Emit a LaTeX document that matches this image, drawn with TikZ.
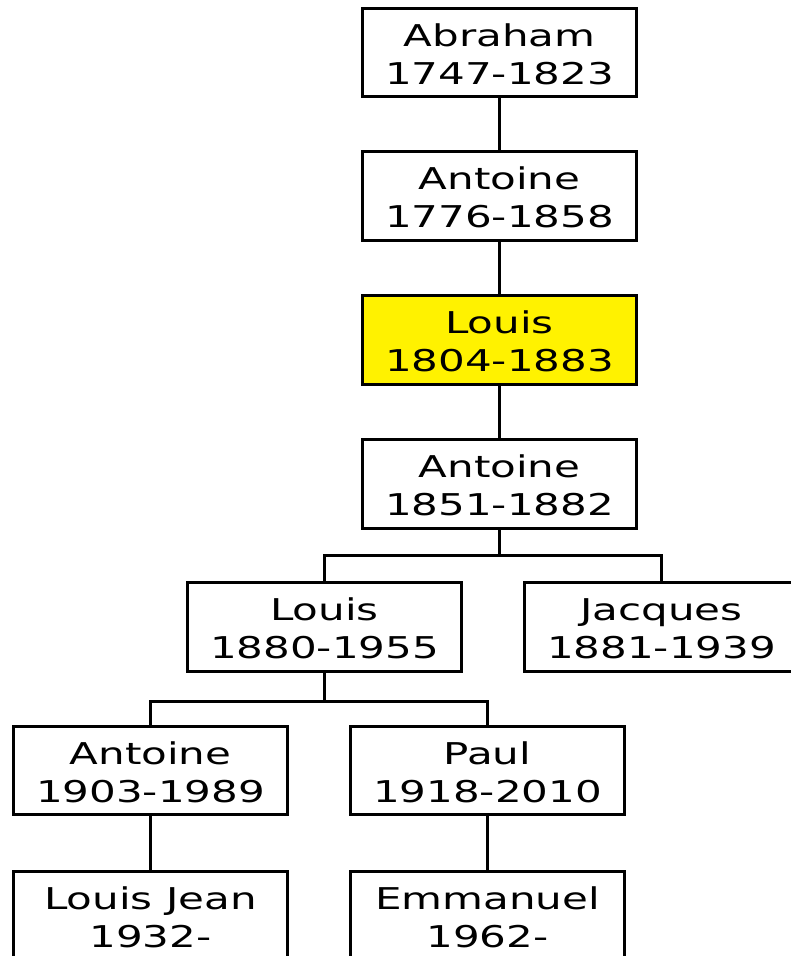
\documentclass[tikz,border=0pt]{standalone}
\usepackage{fontspec}
\setmainfont{DejaVu Sans}
\newcommand{\twolines}[2]{\raisebox{-4pt}[\height][\depth]{\scalebox{1.4}[1]{\begin{tabular}{@{}c@{}}#1\\#2\end{tabular}}}}
\begin{document}
\begin{tikzpicture}[x=0.75pt,y=-0.75pt,
  person/.style={draw=black,line width=2.4pt,rectangle,minimum width=206pt,minimum height=66.5pt,inner sep=0pt,fill=white,
    font=\fontsize{22.5pt}{28.5pt}\selectfont},
  hilite/.style={person,fill=yellow},
  link/.style={line width=2.4pt,draw=black}]
\useasboundingbox (0,0) rectangle (791,956);
\clip (0,0) rectangle (791,956);
\node[person] (a1) at (499.5,52.5) {\twolines{Abraham}{1747-1823}};
\node[person] (a2) at (499.5,196) {\twolines{Antoine}{1776-1858}};
\node[hilite] (l1) at (499.5,340) {\twolines{Louis}{1804-1883}};
\node[person] (a3) at (499.5,484) {\twolines{Antoine}{1851-1882}};
\node[person] (l2) at (324.5,627) {\twolines{Louis}{1880-1955}};
\node[person] (j) at (661.5,627) {\twolines{Jacques}{1881-1939}};
\node[person] (a4) at (150.5,770.5) {\twolines{Antoine}{1903-1989}};
\node[person] (p) at (487.5,770.5) {\twolines{Paul}{1918-2010}};
\node[person] (lj) at (150.5,915.5) {\twolines{Louis Jean}{1932-}};
\node[person] (e) at (487.5,915.5) {\twolines{Emmanuel}{1962-}};
\coordinate (b1) at (499.5,555.5);
\coordinate (b2) at (324.5,701.5);
\draw[link] (a1) -- (a2);
\draw[link] (a2) -- (l1);
\draw[link] (l1) -- (a3);
\draw[link] (a3) -- (b1);
\draw[link] (l2.north) |- (b1) -| (j.north);
\draw[link] (l2) -- (b2);
\draw[link] (a4.north) |- (b2) -| (p.north);
\draw[link] (a4) -- (lj);
\draw[link] (p) -- (e);
\end{tikzpicture}
\end{document}
